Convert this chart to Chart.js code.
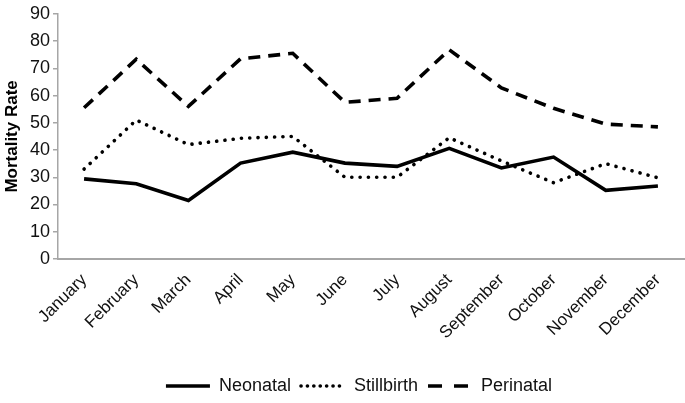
<!DOCTYPE html>
<html>
<head>
<meta charset="utf-8">
<script src="https://cdn.jsdelivr.net/npm/chart.js@4/dist/chart.umd.min.js"></script>
<style>
html,body{margin:0;padding:0;background:#fff;}
#wrap{width:685px;height:403px;position:relative;}
</style>
</head>
<body>
<div id="wrap"><canvas id="c" width="685" height="403"></canvas></div>
<script>
const months = ["January","February","March","April","May","June","July","August","September","October","November","December"];
const neonatal = [29.4, 27.6, 21.5, 35.2, 39.2, 35.2, 34.0, 40.6, 33.4, 37.4, 25.2, 26.8];
const stillbirth = [33.0, 51.0, 42.0, 44.3, 45.0, 30.0, 30.0, 44.5, 36.0, 28.0, 35.0, 29.8];
const perinatal = [55.5, 73.3, 56.0, 73.5, 75.5, 57.5, 59.0, 76.8, 62.8, 55.3, 49.5, 48.5];
const seriesNames = ["Neonatal","Stillbirth","Perinatal"];
const yTicks = [0,10,20,30,40,50,60,70,80,90];

const FONT = "'Liberation Sans', Arial, sans-serif";
const AXIS = '#a6a6a6';
const legendDash = [[], [0.1, 6.3], [14, 12]];

const defaultGen = Chart.defaults.plugins.legend.labels.generateLabels;

const shiftLegend = {
  id: 'shiftLegend',
  beforeDraw(chart) {
    const l = chart.legend;
    if (l && !l._shifted) { l.left += 17; l.right += 17; l.top += 2; l.bottom += 2; l._shifted = true; }
  }
};

new Chart(document.getElementById('c'), {
  type: 'line',
  plugins: [shiftLegend],
  data: {
    labels: months,
    datasets: [
      {label: seriesNames[0], data: neonatal, borderColor:'#000', backgroundColor:'#000', borderWidth:3.6, pointRadius:0, tension:0, pointStyle:'line', borderCapStyle:'butt', borderJoinStyle:'miter'},
      {label: seriesNames[1], data: stillbirth, borderColor:'#000', backgroundColor:'#000', borderWidth:3.6, pointRadius:0, tension:0, pointStyle:'line', borderDash:[0.1, 8.2], borderCapStyle:'round'},
      {label: seriesNames[2], data: perinatal, borderColor:'#000', backgroundColor:'#000', borderWidth:3.6, pointRadius:0, tension:0, pointStyle:'line', borderDash:[12, 8], borderCapStyle:'butt'}
    ]
  },
  options: {
    responsive:false,
    animation:false,
    devicePixelRatio:1,
    layout:{padding:{top:0,right:1,left:0,bottom:0}},
    plugins:{
      legend:{
        position:'bottom',
        labels:{
          usePointStyle:true,
          pointStyleWidth:44,
          boxHeight:4,
          padding:10,
          color:'#111',
          font:{family:FONT,size:18},
          generateLabels(chart){
            const items = defaultGen(chart);
            items.forEach((it,i)=>{
              const ds = chart.data.datasets[i];
              it.lineDash = legendDash[i];
              it.lineCap = ds.borderCapStyle;
              it.lineWidth = ds.borderWidth;
              it.strokeStyle = '#000';
            });
            return items;
          }
        }
      },
      tooltip:{enabled:false}
    },
    scales:{
      x:{
        offset:true,
        grid:{display:false},
        border:{display:true,color:AXIS,width:2},
        ticks:{
          minRotation:45,maxRotation:45,padding:3,color:'#111',
          font:{family:FONT,size:17}
        },
        afterFit:(s)=>{ s.height = 106; }
      },
      y:{
        min:0,max:90,
        afterBuildTicks:(s)=>{ s.ticks = yTicks.map(v=>({value:v})); },
        grid:{drawOnChartArea:false,drawTicks:true,tickLength:5,color:AXIS,lineWidth:1.5},
        border:{display:true,color:AXIS,width:1.5},
        ticks:{padding:3,color:'#111',font:{family:FONT,size:18}},
        title:{display:true,text:'Mortality Rate',color:'#000',font:{family:FONT,size:17,weight:'bold'},padding:{top:2,bottom:0}},
        afterFit:(s)=>{ s.width = 58; }
      }
    }
  }
});
</script>
</body>
</html>
